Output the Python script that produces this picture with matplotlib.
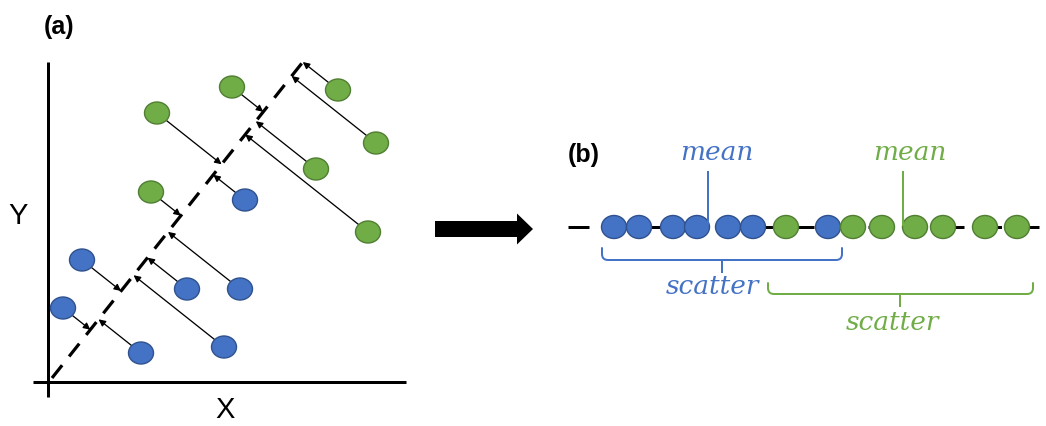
import numpy as np
import matplotlib
matplotlib.use("Agg")
import matplotlib.pyplot as plt
from matplotlib.patches import Ellipse, FancyArrow
from matplotlib.path import Path
from matplotlib.patches import PathPatch

# ------------------------------------------------------------
# Data (canvas pixel coordinates)
# ------------------------------------------------------------
# panel (a): two groups of samples in X-Y space
a_blue_x = [63, 82, 141, 224, 187, 240, 245]
a_blue_y = [308, 260, 353, 347, 289, 289, 200]
a_green_x = [151, 157, 232, 338, 376, 316, 368]
a_green_y = [192, 113, 87, 90, 143, 169, 232]

# projection axis in panel (a)
axis_start = (52, 378)
axis_end = (302, 63)

# panel (b): positions along the projected 1-D axis
b_blue_x = [614, 639, 673, 697, 728, 753, 828]
b_green_x = [786, 853, 882, 915, 943, 985, 1017]
b_mean_x = {"blue": 708, "green": 903}

BLUE = "#4472C4"
BLUE_EDGE = "#2F528F"
GREEN = "#70AD47"
GREEN_EDGE = "#507E32"

W, H = 1046, 426
PT = 72 / 100  # pixel -> point


def dot(ax, x, y, face, edge, w=25, h=22):
    ax.add_patch(Ellipse((x, y), w, h, facecolor=face, edgecolor=edge,
                         linewidth=1.0, zorder=5))


def project(px, py):
    p0 = np.array(axis_start, float)
    d = np.array(axis_end, float) - p0
    t = np.dot(np.array([px, py]) - p0, d) / np.dot(d, d)
    return p0 + t * d


def bracket(ax, x0, x1, ytop, ybot, xmid, ytip, color, r=6):
    verts = [(x0, ytop), (x0, ybot - r), (x0, ybot), (x0 + r, ybot),
             (x1 - r, ybot), (x1, ybot), (x1, ybot - r), (x1, ytop)]
    codes = [Path.MOVETO, Path.LINETO, Path.CURVE3, Path.CURVE3,
             Path.LINETO, Path.CURVE3, Path.CURVE3, Path.LINETO]
    ax.add_patch(PathPatch(Path(verts, codes), facecolor="none",
                           edgecolor=color, linewidth=2 * PT,
                           capstyle="round", joinstyle="round"))
    ax.plot([xmid, xmid], [ybot, ytip], color=color, lw=2 * PT,
            solid_capstyle="butt")


fig = plt.figure(figsize=(W / 100, H / 100), dpi=100)
ax = fig.add_axes([0, 0, 1, 1])
ax.set_xlim(0, W)
ax.set_ylim(H, 0)
ax.set_aspect("equal")
ax.axis("off")

# ------------------------------------------------------------
# Panel (a)
# ------------------------------------------------------------
ax.plot([48, 48], [62, 397], color="black", lw=3 * PT, solid_capstyle="butt")
ax.plot([33, 406], [382, 382], color="black", lw=3 * PT, solid_capstyle="butt")

# dash period chosen so both ends of the axis finish on a dash
ax.plot([axis_start[0], axis_end[0]], [axis_start[1], axis_end[1]],
        color="black", lw=3.2 * PT, dashes=(5.1, 3.5), zorder=3)

for xs, ys, face, edge in [(a_blue_x, a_blue_y, BLUE, BLUE_EDGE),
                           (a_green_x, a_green_y, GREEN, GREEN_EDGE)]:
    for x, y in zip(xs, ys):
        fx, fy = project(x, y)
        ax.annotate("", xy=(fx, fy), xytext=(x, y),
                    arrowprops=dict(arrowstyle="-|>", color="black",
                                    lw=1.3 * PT, mutation_scale=10,
                                    shrinkA=0, shrinkB=0),
                    zorder=4)
        dot(ax, x, y, face, edge)

ax.text(59, 27, "(a)", fontsize=18, fontweight="bold",
        family="Liberation Sans", ha="center", va="center")
ax.text(18, 216, "Y", fontsize=21, family="Liberation Sans",
        ha="center", va="center")
ax.text(225, 410, "X", fontsize=21, family="Liberation Sans",
        ha="center", va="center")

# big arrow between panels
ax.add_patch(FancyArrow(435, 229, 98, 0, width=16, head_width=31,
                        head_length=16, length_includes_head=True,
                        color="black", linewidth=0))

# ------------------------------------------------------------
# Panel (b)
# ------------------------------------------------------------
line_y = 227
ax.plot([568, W], [line_y, line_y], color="black", lw=3 * PT,
        dashes=(7, 5.5), zorder=2)

for x in b_blue_x:
    dot(ax, x, line_y, BLUE, BLUE_EDGE, w=25, h=23)
for x in b_green_x:
    dot(ax, x, line_y, GREEN, GREEN_EDGE, w=25, h=23)

ax.plot([b_mean_x["blue"]] * 2, [172, 224], color=BLUE, lw=2 * PT, zorder=6)
ax.plot([b_mean_x["green"]] * 2, [172, 225], color=GREEN, lw=2 * PT, zorder=6)

ax.text(584, 155, "(b)", fontsize=18, fontweight="bold",
        family="Liberation Sans", ha="center", va="center")

serif = dict(family="DejaVu Serif", style="italic", fontsize=19,
             ha="center", va="center")
ax.text(717, 152, "mean", color=BLUE, **serif)
ax.text(910, 152, "mean", color=GREEN, **serif)

bracket(ax, 602, 842, 248, 260, 722, 273, BLUE)
bracket(ax, 768, 1033, 283, 294, 900, 307, GREEN)

ax.text(712, 287, "scatter", color=BLUE, **serif)
ax.text(892, 322, "scatter", color=GREEN, **serif)

fig.savefig("out.png", dpi=100)
